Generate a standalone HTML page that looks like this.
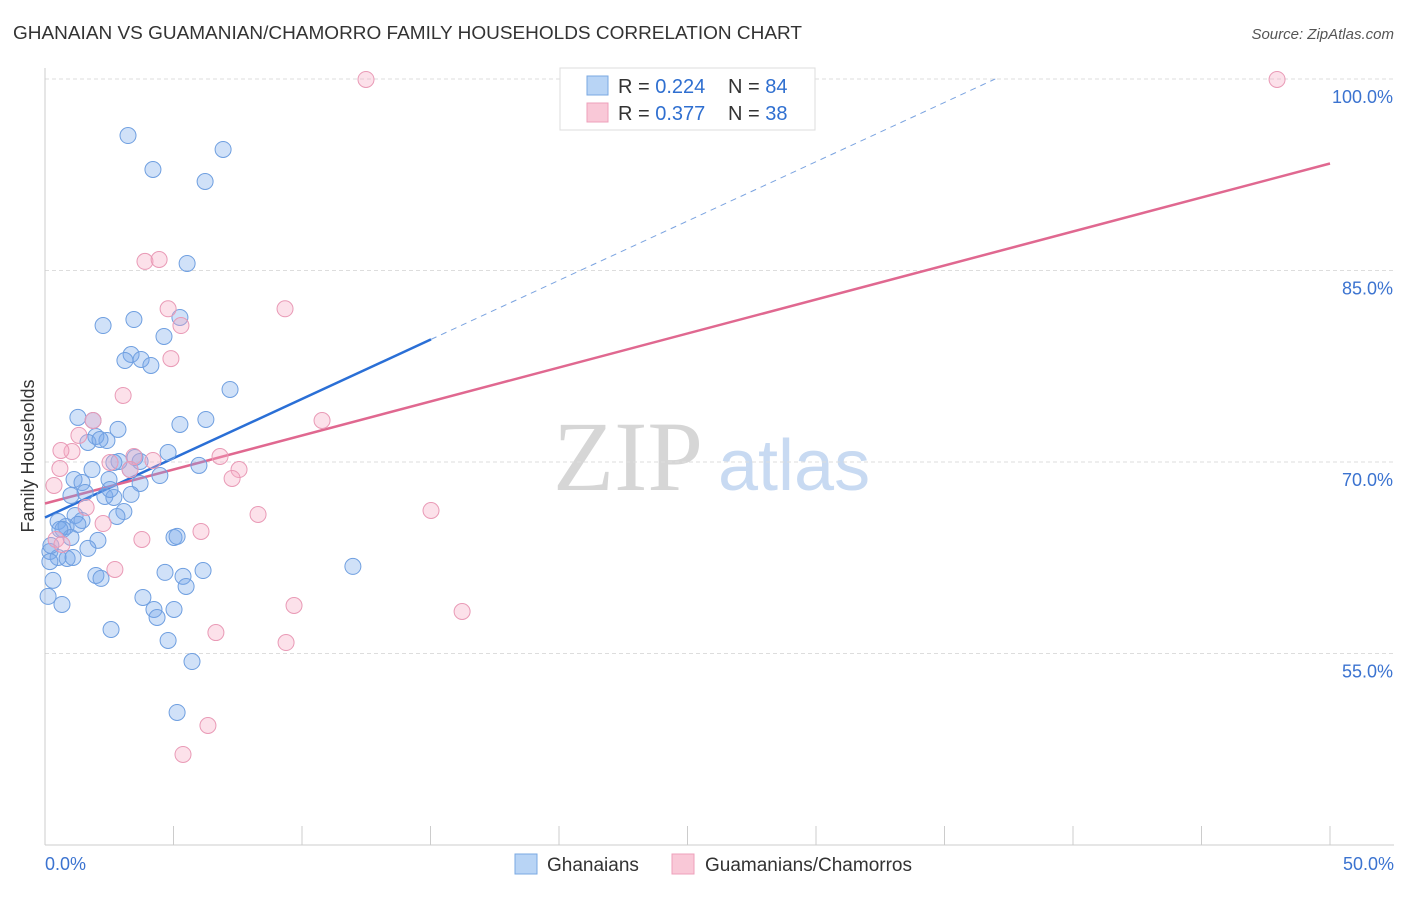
<!DOCTYPE html>
<html><head><meta charset="utf-8">
<style>
body{margin:0;background:#fff;font-family:"Liberation Sans",sans-serif;}
</style></head>
<body>
<svg id="chart" width="1406" height="892" xmlns="http://www.w3.org/2000/svg" font-family="Liberation Sans, sans-serif">
<text x="13" y="39" font-size="18" fill="#333" textLength="789" lengthAdjust="spacingAndGlyphs">GHANAIAN VS GUAMANIAN/CHAMORRO FAMILY HOUSEHOLDS CORRELATION CHART</text>
<text x="1394" y="39" font-size="15" fill="#555" text-anchor="end" font-style="italic">Source: ZipAtlas.com</text>
<text x="553" y="490" font-size="100" fill="#d6d6d6" style="font-family:'Liberation Serif',serif">ZIP</text>
<text x="718" y="490" font-size="72" fill="#c8daf2">atlas</text>
<g id="grid"></g>
<g id="axes"></g>
<g id="lines"></g>
<g id="pts"></g>
<text transform="translate(34,456) rotate(-90)" font-size="18" fill="#333" text-anchor="middle">Family Households</text>
<g>
<rect x="560" y="68" width="255" height="62" fill="#fff" stroke="#ddd"/>
<rect x="587" y="76" width="21" height="19" fill="#b8d4f5" stroke="#7aa8e2"/>
<rect x="587" y="103" width="21" height="19" fill="#f9c8d7" stroke="#eea0bb"/>
<text x="618" y="93" font-size="20" fill="#333">R = <tspan fill="#2f6fd0">0.224</tspan></text>
<text x="728" y="93" font-size="20" fill="#333">N = <tspan fill="#2f6fd0">84</tspan></text>
<text x="618" y="120" font-size="20" fill="#333">R = <tspan fill="#2f6fd0">0.377</tspan></text>
<text x="728" y="120" font-size="20" fill="#333">N = <tspan fill="#2f6fd0">38</tspan></text>
</g>
<g>
<rect x="515" y="854" width="22" height="20" fill="#b8d4f5" stroke="#7aa8e2"/>
<text x="547" y="871" font-size="19" fill="#333">Ghanaians</text>
<rect x="672" y="854" width="22" height="20" fill="#f9c8d7" stroke="#eea0bb"/>
<text x="705" y="871" font-size="19" fill="#333">Guamanians/Chamorros</text>
</g>
</svg>
<script>
const yTicks=[55,70,85,100];
const yTickLabels=["55.0%","70.0%","85.0%","100.0%"];
const xTickCount=10;
const blueX=[3.23,4.2,6.93,6.23,5.53,2.26,3.46,5.25,4.63,3.35,3.11,3.74,4.12,7.2,1.28,1.87,5.25,6.26,2.84,2.41,1.98,1.67,2.14,4.79,3.5,2.88,2.68,5.99,1.83,4.47,1.13,1.44,1.56,1.01,3.7,2.49,3.35,2.33,2.68,3.07,2.8,1.17,1.44,0.51,0.82,0.7,1.01,2.06,1.67,0.19,0.51,0.86,1.09,0.19,5.02,5.14,0.31,1.98,2.18,4.67,5.37,6.15,5.49,0.12,0.66,3.81,4.24,4.36,5.02,2.57,4.79,5.72,5.14,11.98,0.23,0.58,1.28,3.7,3.31,2.53];
const blueY=[95.57,92.91,94.48,91.97,85.55,80.69,81.16,81.32,79.83,78.42,77.95,78.03,77.56,75.68,73.49,73.25,72.94,73.33,72.55,71.68,72.0,71.53,71.76,70.74,70.35,70.04,69.96,69.73,69.41,68.94,68.63,68.39,67.61,67.38,68.32,68.63,67.46,67.3,67.22,66.12,65.73,65.81,65.42,65.34,64.95,64.72,64.09,63.86,63.23,62.99,62.52,62.44,62.52,62.2,64.09,64.17,60.73,61.11,60.88,61.35,61.04,61.5,60.25,59.47,58.84,59.39,58.45,57.82,58.45,56.88,56.02,54.37,50.38,61.82,63.46,64.72,65.11,70.04,69.41,67.85];
const pinkX=[12.49,47.94,3.89,4.44,4.79,9.34,5.29,4.9,3.04,1.87,1.32,10.78,1.05,0.62,6.81,2.53,4.2,3.46,7.55,0.58,0.35,7.28,1.6,8.29,15.02,2.26,6.07,3.77,0.43,2.72,9.69,16.23,6.65,9.38,6.34,5.37,0.66,3.31];
const pinkY=[99.96,99.96,85.71,85.86,82.0,82.0,80.69,78.1,75.21,73.25,72.08,73.25,70.82,70.9,70.43,69.96,70.12,70.43,69.41,69.49,68.16,68.71,66.44,65.89,66.2,65.18,64.56,63.93,63.93,61.58,58.76,58.29,56.64,55.86,49.36,47.09,63.54,69.41];
const blueTrend=[65.65,0.929];
const pinkTrend=[66.75,0.5326];
const NS="http://www.w3.org/2000/svg";
const X=v=>45+v*25.7, Y=v=>845-(v-40)*12.767;
function mk(tag,attrs,parent){const e=document.createElementNS(NS,tag);for(const k in attrs)e.setAttribute(k,attrs[k]);parent.appendChild(e);return e;}
const grid=document.getElementById('grid'),axes=document.getElementById('axes'),lines=document.getElementById('lines'),pts=document.getElementById('pts');
yTicks.forEach((t,i)=>{
 const l=mk('line',{x1:45,x2:1394,y1:Y(t),y2:Y(t),stroke:'#ddd','stroke-dasharray':'4,3'},grid);
 
 
 const tx=mk('text',{x:1393,y:Y(t)+24,'font-size':18,fill:'#3b73d0','text-anchor':'end'},axes);
 tx.textContent=yTickLabels[i];
 
 
});
let a=mk('line',{x1:45,x2:45,y1:68,y2:845,stroke:'#ccc'},axes);


a=mk('line',{x1:45,x2:1394,y1:845,y2:845,stroke:'#ccc'},axes);


for(let i=1;i<=xTickCount;i++){
 const t=mk('line',{x1:X(i*5),x2:X(i*5),y1:826,y2:845,stroke:'#ccc'},axes);
 
 
}
let t0=mk('text',{x:45,y:870,'font-size':18,fill:'#3b73d0'},axes);t0.textContent='0.0%';


let t1=mk('text',{x:1394,y:870,'font-size':18,fill:'#3b73d0','text-anchor':'end'},axes);t1.textContent='50.0%';


blueX.forEach((x,i)=>{
 const c=mk('circle',{cx:X(x),cy:Y(blueY[i]),r:8,fill:'rgba(120,170,235,0.35)',stroke:'#6f9fe0','stroke-width':1},pts);
 
 
});
pinkX.forEach((x,i)=>{
 const c=mk('circle',{cx:X(x),cy:Y(pinkY[i]),r:8,fill:'rgba(245,170,195,0.35)',stroke:'#e99ab6','stroke-width':1},pts);
 
 
});
const bEnd=15.02, bDashEnd=(100-blueTrend[0])/blueTrend[1];
let l=mk('line',{x1:X(0),y1:Y(blueTrend[0]),x2:X(bEnd),y2:Y(blueTrend[0]+blueTrend[1]*bEnd),stroke:'#2a6fd6','stroke-width':2.5},lines);


l=mk('line',{x1:X(bEnd),y1:Y(blueTrend[0]+blueTrend[1]*bEnd),x2:X(bDashEnd),y2:Y(100),stroke:'#7aa3e0','stroke-width':1,'stroke-dasharray':'6,5'},lines);


l=mk('line',{x1:X(0),y1:Y(pinkTrend[0]),x2:X(50),y2:Y(pinkTrend[0]+pinkTrend[1]*50),stroke:'#e06890','stroke-width':2.5},lines);


</script>
</body></html>
